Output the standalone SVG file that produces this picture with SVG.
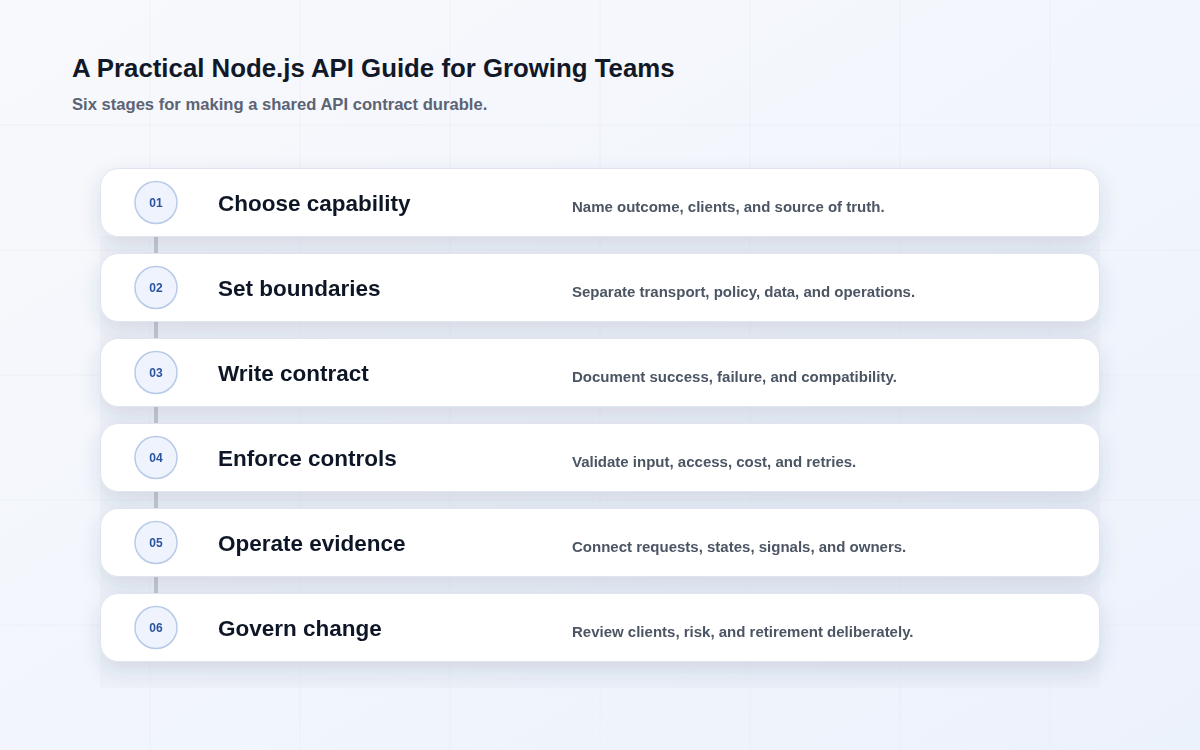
<svg xmlns="http://www.w3.org/2000/svg" width="1200" height="750" viewBox="0 0 1200 750">
<defs>
<linearGradient id="bg" x1="0" y1="0" x2="1" y2="1">
<stop offset="0" stop-color="#f8f9fc"/>
<stop offset="1" stop-color="#ecf2fc"/>
</linearGradient>
<filter id="sh" x="-5%" y="-30%" width="110%" height="180%">
<feDropShadow dx="0" dy="8" stdDeviation="10" flood-color="#2a3a66" flood-opacity="0.14"/>
</filter>
<style>
.grid{stroke:#e9edf3;stroke-width:1;opacity:0.7}
.card{fill:#ffffff;stroke:#dfe4ee;stroke-width:1}
.badge{fill:#eef3fd;stroke:#b8cae8;stroke-width:1.5}
.num{font-family:"Liberation Sans",Arial,sans-serif;font-size:12px;font-weight:700;fill:#2c53a0;text-anchor:middle}
.ttl{font-family:"Liberation Sans",Arial,sans-serif;font-size:22.5px;font-weight:700;fill:#111827}
.desc{font-family:"Liberation Sans",Arial,sans-serif;font-size:15px;font-weight:700;fill:#4b5563}
.conn{stroke:#c5c9d2;stroke-width:4}
</style>
</defs>
<rect width="1200" height="750" fill="url(#bg)"/>
<g id="grid">
<line class="grid" x1="150" y1="0" x2="150" y2="750"/>
<line class="grid" x1="300" y1="0" x2="300" y2="750"/>
<line class="grid" x1="450" y1="0" x2="450" y2="750"/>
<line class="grid" x1="600" y1="0" x2="600" y2="750"/>
<line class="grid" x1="750" y1="0" x2="750" y2="750"/>
<line class="grid" x1="900" y1="0" x2="900" y2="750"/>
<line class="grid" x1="1050" y1="0" x2="1050" y2="750"/>
<line class="grid" x1="0" y1="125" x2="1200" y2="125"/>
<line class="grid" x1="0" y1="250" x2="1200" y2="250"/>
<line class="grid" x1="0" y1="375" x2="1200" y2="375"/>
<line class="grid" x1="0" y1="500" x2="1200" y2="500"/>
<line class="grid" x1="0" y1="625" x2="1200" y2="625"/>
</g>
<rect x="100" y="236" width="1000" height="452" fill="#dde2ec" opacity="0.22"/>
<g id="header">
<text x="72" y="77" font-family="Liberation Sans, Arial, sans-serif" font-size="25.8" font-weight="700" fill="#111827">A Practical Node.js API Guide for Growing Teams</text>
<text x="72" y="110" font-family="Liberation Sans, Arial, sans-serif" font-size="16.6" font-weight="700" fill="#5b6475">Six stages for making a shared API contract durable.</text>
</g>
<g id="connectors">
<line class="conn" x1="156" y1="237" x2="156" y2="253"/>
<line class="conn" x1="156" y1="322" x2="156" y2="338"/>
<line class="conn" x1="156" y1="407" x2="156" y2="423"/>
<line class="conn" x1="156" y1="492" x2="156" y2="508"/>
<line class="conn" x1="156" y1="577" x2="156" y2="593"/>
</g>
<g id="stage1" filter="url(#sh)">
<rect class="card" x="100.5" y="168.5" width="999" height="68" rx="18"/>
<circle class="badge" cx="156" cy="202.5" r="21"/>
<text class="num" x="156" y="207">01</text>
<text class="ttl" x="218" y="211">Choose capability</text>
<text class="desc" x="572" y="212">Name outcome, clients, and source of truth.</text>
</g>
<g id="stage2" filter="url(#sh)">
<rect class="card" x="100.5" y="253.5" width="999" height="68" rx="18"/>
<circle class="badge" cx="156" cy="287.5" r="21"/>
<text class="num" x="156" y="292">02</text>
<text class="ttl" x="218" y="296">Set boundaries</text>
<text class="desc" x="572" y="297">Separate transport, policy, data, and operations.</text>
</g>
<g id="stage3" filter="url(#sh)">
<rect class="card" x="100.5" y="338.5" width="999" height="68" rx="18"/>
<circle class="badge" cx="156" cy="372.5" r="21"/>
<text class="num" x="156" y="377">03</text>
<text class="ttl" x="218" y="381">Write contract</text>
<text class="desc" x="572" y="382">Document success, failure, and compatibility.</text>
</g>
<g id="stage4" filter="url(#sh)">
<rect class="card" x="100.5" y="423.5" width="999" height="68" rx="18"/>
<circle class="badge" cx="156" cy="457.5" r="21"/>
<text class="num" x="156" y="462">04</text>
<text class="ttl" x="218" y="466">Enforce controls</text>
<text class="desc" x="572" y="467">Validate input, access, cost, and retries.</text>
</g>
<g id="stage5" filter="url(#sh)">
<rect class="card" x="100.5" y="508.5" width="999" height="68" rx="18"/>
<circle class="badge" cx="156" cy="542.5" r="21"/>
<text class="num" x="156" y="547">05</text>
<text class="ttl" x="218" y="551">Operate evidence</text>
<text class="desc" x="572" y="552">Connect requests, states, signals, and owners.</text>
</g>
<g id="stage6" filter="url(#sh)">
<rect class="card" x="100.5" y="593.5" width="999" height="68" rx="18"/>
<circle class="badge" cx="156" cy="627.5" r="21"/>
<text class="num" x="156" y="632">06</text>
<text class="ttl" x="218" y="636">Govern change</text>
<text class="desc" x="572" y="637">Review clients, risk, and retirement deliberately.</text>
</g>
</svg>
